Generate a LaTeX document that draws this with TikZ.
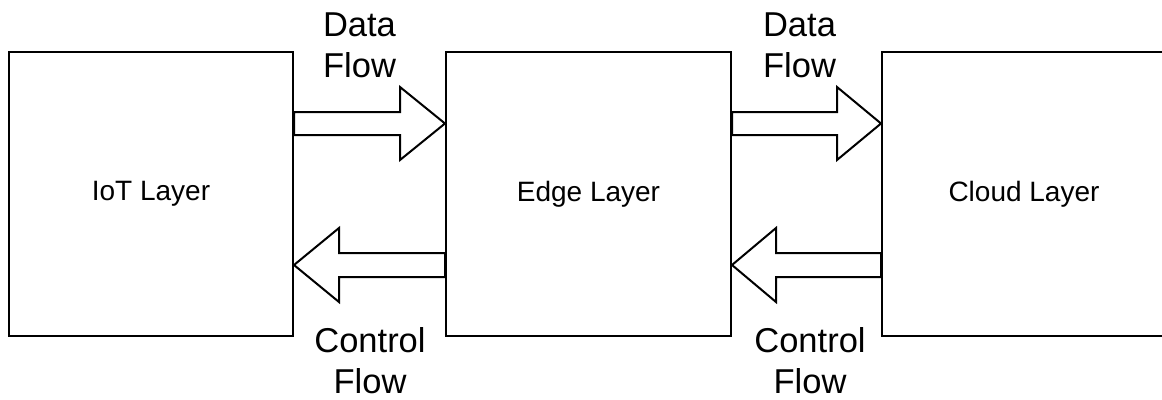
\documentclass[tikz,border=0pt]{standalone}
\usepackage{fontspec}
\setmainfont{Liberation Sans}
\begin{document}
\begin{tikzpicture}[x=1pt,y=-1pt, line width=2pt,
  layer/.style={draw, rectangle, minimum width=284pt, minimum height=284pt, inner sep=0pt, font=\fontsize{28}{34}\selectfont},
  flowlbl/.style={align=center, inner sep=0pt, anchor=north, font=\fontsize{34.5}{41.5}\selectfont},
  flowarrow/.style={draw, fill=white, line join=miter}]
\useasboundingbox (0,0) rectangle (1162,399);
\clip (0,0) rectangle (1162,399);
\node[layer] (iot) at (151,194) {IoT Layer};
\node[layer, minimum width=285pt] (edge) at (588.5,194) {Edge Layer};
\node[layer, minimum width=340pt, label={[font=\fontsize{28}{34}\selectfont, xshift=-28pt]center:Cloud Layer}] (cloud) at (1052,194) {};
\path (0,112) coordinate (dtop) (0,135) coordinate (dbot) (0,123.5) coordinate (dmid)
      (0,253) coordinate (ctop) (0,277) coordinate (cbot) (0,265) coordinate (cmid);
% data flow arrows
\draw[flowarrow] (iot.east |- dtop) -- (400,112) -- (400,87) -- (edge.west |- dmid)
  -- (400,160) -- (400,135) -- (iot.east |- dbot) -- cycle;
\draw[flowarrow] (edge.east |- dtop) -- (837,112) -- (837,87) -- (cloud.west |- dmid)
  -- (837,160) -- (837,135) -- (edge.east |- dbot) -- cycle;
% control flow arrows
\draw[flowarrow] (edge.west |- ctop) -- (339,253) -- (339,228) -- (iot.east |- cmid)
  -- (339,302) -- (339,277) -- (edge.west |- cbot) -- cycle;
\draw[flowarrow] (cloud.west |- ctop) -- (776,253) -- (776,228) -- (edge.east |- cmid)
  -- (776,302) -- (776,277) -- (cloud.west |- cbot) -- cycle;
% labels
\node[flowlbl] (d1) at (359.5,11.5) {Data\\Flow};
\node[flowlbl] (d2) at (799.5,11.5) {Data\\Flow};
\node[flowlbl] (c1) at (370,326) {Control\\Flow};
\node[flowlbl] (c2) at (810,326) {Control\\Flow};
\end{tikzpicture}
\end{document}
